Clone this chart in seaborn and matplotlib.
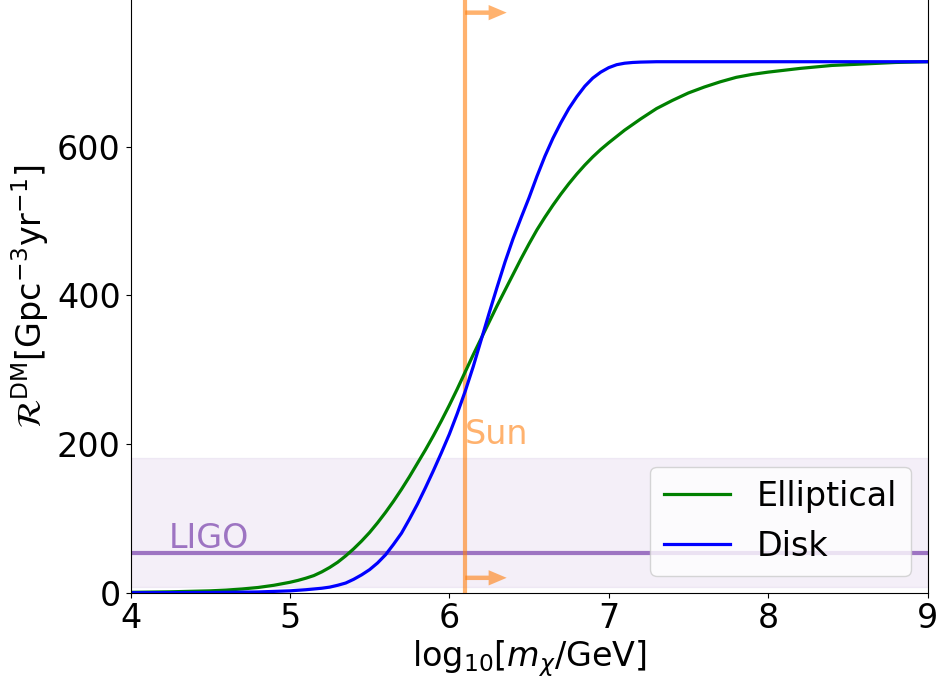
import matplotlib
matplotlib.use("Agg")
import matplotlib.pyplot as plt
import seaborn as sns
import pandas as pd

# ---- data ----
ell_x = [4.0, 4.25, 4.5, 4.6, 4.7, 4.8, 4.9, 5.0, 5.05, 5.1, 5.15, 5.2, 5.25,
         5.3, 5.35, 5.4, 5.45, 5.5, 5.55, 5.6, 5.65, 5.7, 5.75, 5.8, 5.85,
         5.9, 5.95, 6.0, 6.05, 6.1, 6.15, 6.2, 6.25, 6.3, 6.35, 6.4, 6.45,
         6.5, 6.55, 6.6, 6.65, 6.7, 6.75, 6.8, 6.85, 6.9, 6.95, 7.0, 7.1,
         7.2, 7.3, 7.4, 7.5, 7.6, 7.7, 7.8, 7.9, 8.0, 8.2, 8.4, 8.6, 8.8, 9.0]
ell_y = [0.5, 1.2, 2.5, 3.5, 5, 7, 10, 14, 16.5, 19.5, 23, 28, 34,
         41, 49.5, 59, 69.5, 81, 94, 108, 123, 139, 156, 174, 192,
         211, 231, 252, 274, 297, 320, 342, 364, 386, 407, 428, 449,
         469, 488, 505, 521, 536, 550, 563, 575, 586, 596, 605, 622,
         637, 651, 662, 672, 680, 687, 693, 697, 700, 705, 709, 711, 713, 714]

disk_x = [4.0, 4.5, 4.8, 5.0, 5.1, 5.2, 5.25, 5.3, 5.35, 5.4, 5.45, 5.5, 5.55,
          5.6, 5.65, 5.7, 5.75, 5.8, 5.85, 5.9, 5.95, 6.0, 6.05, 6.1, 6.15,
          6.2, 6.25, 6.3, 6.35, 6.4, 6.45, 6.5, 6.55, 6.6, 6.65, 6.7, 6.75,
          6.8, 6.85, 6.9, 6.95, 7.0, 7.05, 7.1, 7.15, 7.2, 7.3, 7.5, 8.0, 9.0]
disk_y = [0, 0.3, 1, 2.5, 4, 6, 7.5, 10, 13, 18, 24, 31, 40,
          51, 65, 80, 99, 119, 141, 164, 188, 213, 241, 271, 304,
          340, 376, 411, 445, 476, 504, 531, 560, 587, 611, 632, 651,
          667, 681, 692, 700, 706, 710, 712, 713, 713.5, 714, 714, 714, 714]

series_names = ["Elliptical", "Disk"]
series_colors = ["green", "blue"]

ligo_rate = 54
ligo_band = [7, 181]
sun_mass = 6.1
sun_arrow_end = 6.36
sun_arrow_y = [780, 20]

x_ticks = [4, 5, 6, 7, 8, 9]
y_ticks = [0, 200, 400, 600]

df = pd.concat([
    pd.DataFrame({"x": ell_x, "y": ell_y, "model": series_names[0]}),
    pd.DataFrame({"x": disk_x, "y": disk_y, "model": series_names[1]}),
])

plt.rcParams["font.family"] = ["DejaVu Sans"]
plt.rcParams["mathtext.fontset"] = "dejavusans"

fig = plt.figure(figsize=(9.43, 6.84), dpi=100)
ax = fig.add_axes([130.5 / 943, 1 - 592.7 / 684, (927.5 - 130.5) / 943, 592.7 / 684])

orange = "tab:orange"
purple = "tab:purple"

ax.axhspan(ligo_band[0], ligo_band[1], color=purple, alpha=0.1, lw=1)
ax.axhline(ligo_rate, color=purple, lw=3, alpha=0.9)
ax.text(4.24, 60, "LIGO", color=purple, fontsize=24, alpha=0.9)

ax.axvline(sun_mass, color=orange, lw=3, alpha=0.6)
for yy in sun_arrow_y:
    ax.annotate("", xy=(sun_arrow_end, yy), xytext=(sun_mass, yy),
                arrowprops=dict(arrowstyle="simple,head_length=0.65,head_width=0.55,tail_width=0.16",
                                mutation_scale=20, lw=0, color=orange, alpha=0.6,
                                shrinkA=0, shrinkB=0))
ax.text(sun_mass, 200, "Sun", color=orange, fontsize=24, alpha=0.6)

sns.lineplot(data=df, x="x", y="y", hue="model", palette=series_colors,
             lw=2.3, ax=ax, sort=False, estimator=None)

ax.set_xlim(4, 9)
ax.set_ylim(0, 797)
ax.set_xticks(x_ticks)
ax.set_yticks(y_ticks)
ax.tick_params(axis="both", labelsize=24, colors="black")
ax.spines["top"].set_visible(False)

ax.set_xlabel(r"log$_{10}$[$m_\chi$/GeV]", fontsize=24, labelpad=2)
ax.set_ylabel(r"$\mathcal{R}^{\rm DM}[\rm Gpc^{-3}yr^{-1}]$", fontsize=24, labelpad=4)

leg = ax.legend(loc="lower right", fontsize=24, title=None, frameon=True)
for line in leg.get_lines():
    line.set_linewidth(2.3)

fig.savefig("out.png", dpi=100)
